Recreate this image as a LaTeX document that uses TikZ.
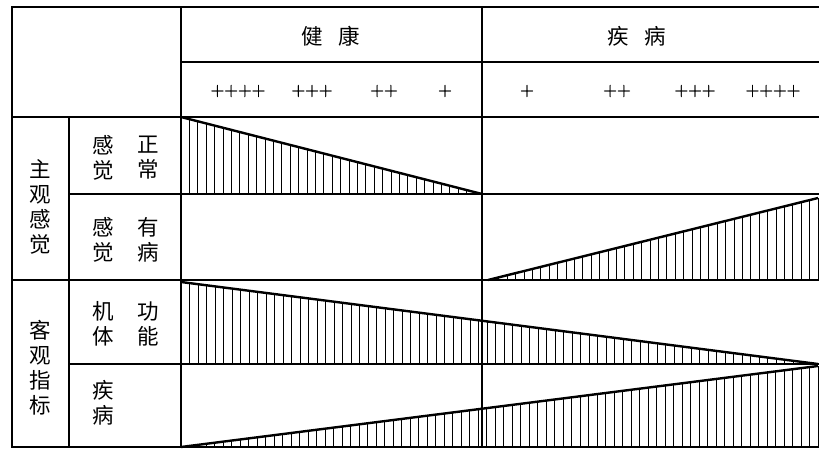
\documentclass[tikz,border=0pt]{standalone}
\usepackage{fontspec}
\newfontfamily\cjk{Noto Sans CJK SC}
\newfontfamily\plfont[FakeBold=1.5]{Latin Modern Roman}
\begin{document}
\begin{tikzpicture}[x=1pt,y=-1pt,
  grid/.style={line width=2.8pt},
  hatch/.style={line width=1pt},
  edge/.style={line width=2.4pt},
  lbl/.style={font=\cjk\fontsize{21.5}{25}\selectfont, inner sep=0pt, align=center},
  pl/.style={font=\plfont\fontsize{19}{19}\selectfont, inner sep=0pt}]
\useasboundingbox (0,0) rectangle (819,449);
% hatched wedges
\begin{scope}
  \clip (181,117) -- (181,194) -- (482,194) -- cycle;
  \foreach \x in {181,189.4,...,484} \draw[hatch] (\x,117) -- (\x,194);
\end{scope}
\draw[edge] (181,117) coordinate (a1) -- (482,194) coordinate (a2);
\begin{scope}
  \clip (488,280) -- (818,198) -- (818,280) -- cycle;
  \foreach \x in {818,809.6,...,486} \draw[hatch] (\x,194) -- (\x,280);
\end{scope}
\draw[edge] (488,280) coordinate (b1) -- (818,198) coordinate (b2);
\draw[hatch] (818,198) -- (818,280);
\begin{scope}
  \clip (181,282) -- (818,364) -- (181,364) -- cycle;
  \foreach \x in {181,189.5,...,820} \draw[hatch] (\x,280) -- (\x,364);
\end{scope}
\draw[edge] (181,282) coordinate (c1) -- (818,364) coordinate (c2);
\begin{scope}
  \clip (181,447) -- (818,366) -- (818,447) -- cycle;
  \foreach \x in {818,809.5,...,180} \draw[hatch] (\x,364) -- (\x,447);
\end{scope}
\draw[edge] (181,447) coordinate (d1) -- (818,366) coordinate (d2);
\draw[hatch] (818,366) -- (818,447);
% grid
\draw[grid] (819,7) -- (12,7) -- (12,447) -- (819,447);
\draw[grid] (181,62) -- (819,62);
\draw[grid] (12,117) -- (819,117);
\draw[grid] (69,194) -- (819,194);
\draw[grid] (12,280) -- (819,280);
\draw[grid] (69,364) -- (819,364);
\draw[grid] (69,117) -- (69,447);
\draw[grid] (181,7) -- (181,447);
\draw[grid] (482,7) -- (482,447);
% header
\node[lbl] (jk) at (331,36) {健\hspace{0.7em}康};
\node[lbl] (jb) at (637,36) {疾\hspace{0.7em}病};
\node[pl] (p1) at (238,91) {++++};
\node[pl] (p2) at (312,91) {+++};
\node[pl] (p3) at (384,91) {++};
\node[pl] (p4) at (445,91) {+};
\node[pl] (p5) at (527,91) {+};
\node[pl] (p6) at (617,91) {++};
\node[pl] (p7) at (695,91) {+++};
\node[pl] (p8) at (773,91) {++++};
% left labels
\node[lbl] (zg) at (40,207) {主\\观\\感\\觉};
\node[lbl] (kg) at (40,368) {客\\观\\指\\标};
\node[lbl] (r1a) at (103,157.5) {感\\觉};
\node[lbl] (r1b) at (148,157.5) {正\\常};
\node[lbl] (r2a) at (103,239.5) {感\\觉};
\node[lbl] (r2b) at (148,239.5) {有\\病};
\node[lbl] (r3a) at (103,324) {机\\体};
\node[lbl] (r3b) at (148,324) {功\\能};
\node[lbl] (r4a) at (103,402.5) {疾\\病};
\end{tikzpicture}
\end{document}
